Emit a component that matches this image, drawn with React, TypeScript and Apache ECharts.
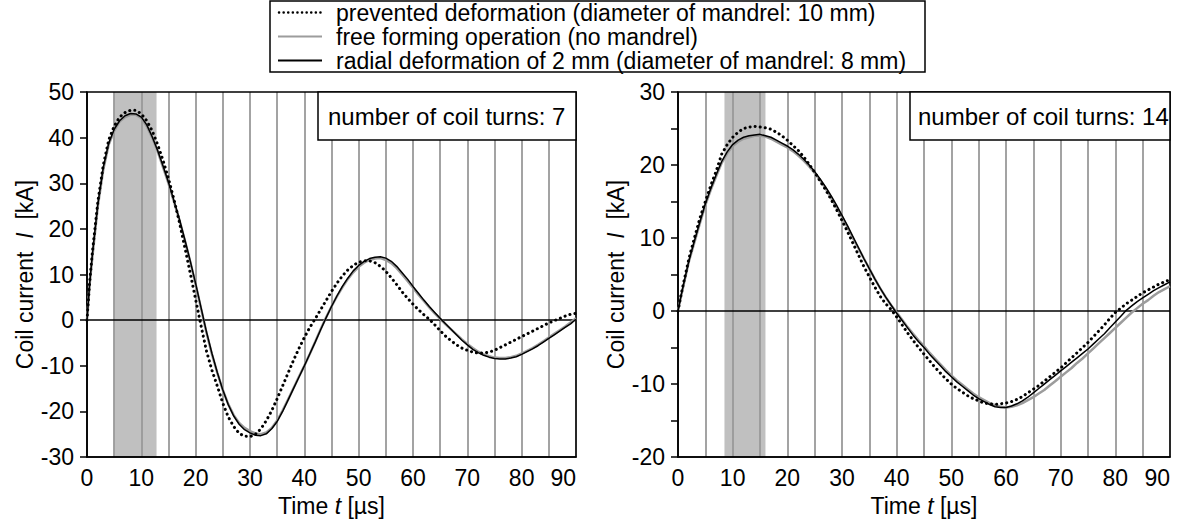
import React, { useEffect, useRef } from "react";
import * as echarts from "echarts";

const FONT = "'Liberation Sans', Arial, sans-serif";

// time axis (µs)
const TIME = [0, 0.5, ...Array.from({ length: 90 }, (_, i) => i + 1)];

// ---- 7 coil turns ----
const L_PREVENTED = [0, 8.5,
  15, 26, 34, 39.5, 42.5, 44.5, 45.5, 46, 46, 45.2,
  43.7, 41.5, 38.5, 35, 31, 26.5, 21.5, 16, 10.3, 4.5,
  -1.3, -6.8, -11, -14.5, -18.2, -21.2, -23.3, -24.8, -25.4, -25.5,
  -25, -23.8, -22, -19.8, -17.2, -14.4, -11.6, -8.8, -6.2, -3.8,
  -1.6, 0.3, 2.3, 4.3, 6.3, 8.1, 9.7, 11, 12, 12.7,
  13, 13, 12.6, 11.8, 10.7, 9.3, 7.8, 6.2, 4.8, 3.5,
  2.3, 1.2, 0.2, -1, -2.3, -3.5, -4.5, -5.4, -6.1, -6.6,
  -7, -7.2, -7.2, -7, -6.6, -6, -5.4, -4.8, -4.2, -3.6,
  -3, -2.4, -1.8, -1.2, -0.6, -0.1, 0.4, 0.9, 1.3, 1.5];
const L_FREE = [0, 8,
  14, 25, 33, 38.5, 41.5, 43.5, 44.5, 45, 45, 44.3,
  42.5, 40, 37, 33.5, 30, 26, 22, 17.5, 12.8, 7.8,
  2.5, -2.8, -7.5, -11.6, -15.3, -18.4, -20.8, -22.5, -23.6, -24.3,
  -24.8, -25, -24.6, -23.6, -22, -19.8, -17.4, -14.9, -12.4, -10,
  -7.4, -4.7, -2, 0.6, 3, 5.2, 7.2, 9, 10.5, 11.7,
  12.6, 13.2, 13.5, 13.6, 13.2, 12.5, 11.4, 10, 8.6, 7.1,
  5.6, 4.2, 2.8, 1.5, 0.3, -0.9, -2, -3.1, -4.2, -5.2,
  -6.1, -6.9, -7.5, -7.9, -8.2, -8.3, -8.3, -8.1, -7.8, -7.3,
  -6.7, -6.1, -5.4, -4.6, -3.8, -3, -2.2, -1.4, -0.5, 0.4];
const L_RADIAL = [0, 8.2,
  14.5, 25.5, 33.5, 38.8, 41.8, 43.7, 44.8, 45.3, 45.2, 44.5,
  42.8, 40.2, 37.2, 33.8, 30.2, 26.2, 22.2, 17.7, 13, 8,
  2.7, -2.6, -7.3, -11.5, -15.3, -18.5, -21, -22.8, -24, -24.7,
  -25.2, -25.3, -24.9, -23.8, -22.2, -20, -17.5, -15, -12.5, -10,
  -7.4, -4.8, -2.1, 0.5, 3, 5.3, 7.4, 9.2, 10.8, 12,
  12.9, 13.5, 13.8, 13.9, 13.6, 12.9, 11.8, 10.4, 9, 7.4,
  5.9, 4.4, 3, 1.7, 0.4, -0.8, -2, -3.2, -4.4, -5.4,
  -6.4, -7.1, -7.7, -8.1, -8.4, -8.5, -8.5, -8.3, -8, -7.5,
  -6.9, -6.3, -5.6, -4.8, -4, -3.2, -2.4, -1.6, -0.8, 0.2];

// ---- 14 coil turns ----
const R_PREVENTED = [0, 2,
  3.8, 7.2, 10, 12.7, 15, 17.2, 19.2, 21.5, 22.8, 23.8,
  24.5, 25, 25.2, 25.3, 25.2, 25.1, 24.9, 24.5, 24, 23.4,
  22.7, 22, 21.1, 20.1, 19, 17.8, 16.6, 15.3, 13.9, 12.4,
  10.9, 9.3, 7.7, 6.1, 4.7, 3.3, 2, 1, 0.2, -0.8,
  -1.9, -3, -4, -5, -5.9, -6.8, -7.7, -8.5, -9.3, -10,
  -10.6, -11.1, -11.6, -12, -12.3, -12.6, -12.7, -12.8, -12.7, -12.6,
  -12.4, -12.1, -11.7, -11.2, -10.7, -10.2, -9.6, -9, -8.4, -7.8,
  -7.1, -6.4, -5.7, -5, -4.3, -3.5, -2.7, -1.9, -1, -0.2,
  0.4, 1, 1.5, 2, 2.5, 2.9, 3.3, 3.7, 4, 4.3];
const R_FREE = [0, 1.8,
  3.5, 6.8, 9.4, 12, 14.5, 16.6, 18.5, 20.3, 21.6, 22.6,
  23.2, 23.6, 23.8, 24, 24, 23.9, 23.6, 23.2, 22.8, 22.4,
  21.9, 21.3, 20.6, 19.8, 18.9, 17.9, 16.8, 15.5, 14.2, 12.9,
  11.5, 10, 8.6, 7.2, 5.8, 4.4, 3.1, 1.9, 0.8, -0.2,
  -1.2, -2.2, -3.1, -4, -4.8, -5.7, -6.5, -7.3, -8.1, -8.8,
  -9.5, -10.1, -10.7, -11.3, -11.8, -12.2, -12.6, -12.9, -13.1, -13.2,
  -13.1, -12.9, -12.6, -12.2, -11.8, -11.3, -10.8, -10.2, -9.6, -9,
  -8.4, -7.8, -7.1, -6.5, -5.8, -5.1, -4.4, -3.7, -3, -2.3,
  -1.6, -0.9, -0.2, 0.4, 1, 1.5, 2.1, 2.6, 3, 3.4];
const R_RADIAL = [0, 1.9,
  3.6, 6.9, 9.6, 12.2, 14.7, 16.8, 18.7, 20.5, 21.8, 22.8,
  23.4, 23.8, 24, 24.1, 24.2, 24, 23.8, 23.4, 23, 22.6,
  22.1, 21.5, 20.8, 20, 19.1, 18.1, 17, 15.8, 14.5, 13.1,
  11.7, 10.2, 8.7, 7.2, 5.8, 4.4, 3.1, 1.9, 0.8, -0.3,
  -1.3, -2.3, -3.3, -4.2, -5, -5.9, -6.7, -7.5, -8.3, -9,
  -9.7, -10.3, -10.9, -11.5, -12, -12.4, -12.8, -13.1, -13.2, -13.2,
  -13, -12.7, -12.3, -11.8, -11.2, -10.6, -10, -9.4, -8.8, -8.2,
  -7.6, -7, -6.4, -5.8, -5.2, -4.5, -3.8, -3.1, -2.3, -1.5,
  -0.7, 0.1, 0.7, 1.3, 1.8, 2.3, 2.8, 3.2, 3.6, 4];

const LEGEND_LABELS = [
  "prevented deformation (diameter of mandrel: 10 mm)",
  "free forming operation (no mandrel)",
  "radial deformation of 2 mm (diameter of mandrel: 8 mm)",
];
const PANEL_LABELS = ["number of coil turns: 7", "number of coil turns: 14"];
const BANDS = [[5, 12.8], [8.5, 16]];
const Y_RANGES = [[-30, 50], [-20, 30]];

const GRID_GRAY = "#999999";
const LINE_GRAY = "#9c9c9c";
const FS = 23;

const pairs = (vals: number[]) => TIME.map((t, i) => [t, vals[i]]);

export default function App() {
  const ref = useRef<HTMLDivElement>(null);
  useEffect(() => {
    document.body.style.margin = "0";
    const chart = echarts.init(ref.current!, null, { renderer: "svg" });
    const grids = [
      { left: 87, top: 92, width: 489, height: 391 },
      { left: 678, top: 92, width: 492, height: 391 },
    ];
    const richItalic = { i: { fontStyle: "italic", fontSize: FS, fontFamily: FONT, color: "#000" } };
    const xAxes = [0, 1].map((i) => ({
      type: "value",
      gridIndex: i,
      min: 0,
      max: 90,
      interval: 10,
      z: 3,
      axisLine: { show: true, onZero: false, lineStyle: { color: "#000", width: 1.5 } },
      axisTick: { show: false },
      axisLabel: { color: "#000", fontSize: FS, fontFamily: FONT, margin: 9, alignMaxLabel: "right" },
      splitLine: { show: true, lineStyle: { color: GRID_GRAY, width: 1.8 } },
      minorTick: { show: false, splitNumber: 2 },
      minorSplitLine: { show: true, lineStyle: { color: GRID_GRAY, width: 1.8 } },
      name: "Time {i|t} [µs]",
      nameLocation: "middle",
      nameGap: 19,
      nameTextStyle: { color: "#000", fontSize: FS, fontFamily: FONT, rich: richItalic },
    }));
    const yAxes = [0, 1].map((i) => ({
      type: "value",
      gridIndex: i,
      min: Y_RANGES[i][0],
      max: Y_RANGES[i][1],
      interval: 10,
      z: 3,
      axisLine: { show: true, onZero: false, lineStyle: { color: "#000", width: 1.5 } },
      axisTick: { show: true, length: 7, lineStyle: { color: "#000", width: 1.5 } },
      minorTick: { show: i === 1, splitNumber: 2, length: 7, lineStyle: { color: "#000", width: 1.5 } },
      axisLabel: { color: "#000", fontSize: FS, fontFamily: FONT, margin: 13 },
      splitLine: { show: false },
      name: "Coil current  {i|I}  [kA]",
      nameLocation: "middle",
      nameGap: 50,
      nameTextStyle: { color: "#000", fontSize: FS, fontFamily: FONT, rich: richItalic },
    }));
    const series: any[] = [];
    const sets = [
      [L_FREE, L_RADIAL, L_PREVENTED],
      [R_FREE, R_RADIAL, R_PREVENTED],
    ];
    [0, 1].forEach((i) => {
      series.push({
        type: "line",
        xAxisIndex: i,
        yAxisIndex: i,
        z: 1,
        data: [],
        silent: true,
        markArea: {
          silent: true,
          itemStyle: { color: "#c0c0c0" },
          data: [[{ xAxis: BANDS[i][0] }, { xAxis: BANDS[i][1] }]],
        },
      });
      const [free, radial, prevented] = sets[i];
      series.push({
        name: LEGEND_LABELS[1], type: "line", xAxisIndex: i, yAxisIndex: i, z: 5,
        showSymbol: false, data: pairs(free),
        lineStyle: { color: LINE_GRAY, width: 2.5 },
        markLine: {
          silent: true, symbol: "none", label: { show: false },
          lineStyle: { color: "#000", width: 1.5, type: "solid" },
          data: [{ yAxis: 0 }],
        },
      });
      series.push({
        name: LEGEND_LABELS[2], type: "line", xAxisIndex: i, yAxisIndex: i, z: 6,
        showSymbol: false, data: pairs(radial),
        lineStyle: { color: "#000", width: 1.5 },
      });
      series.push({
        name: LEGEND_LABELS[0], type: "line", xAxisIndex: i, yAxisIndex: i, z: 7,
        showSymbol: false, data: pairs(prevented),
        lineStyle: { color: "#000", width: 3, type: [0.1, 5], cap: "round" },
      });
    });

    const legendY = [12.5, 36.5, 60.5];
    const graphic: any[] = [
      {
        type: "rect", z: 100, shape: { x: 270, y: 1, width: 655, height: 71 },
        style: { fill: "#fff", stroke: "#000", lineWidth: 1.5 },
      },
      {
        type: "line", z: 101, shape: { x1: 279, y1: legendY[0], x2: 321, y2: legendY[0] },
        style: { stroke: "#000", lineWidth: 2.5, lineDash: [0.1, 4.5], lineCap: "round" },
      },
      {
        type: "line", z: 101, shape: { x1: 278, y1: legendY[1], x2: 322, y2: legendY[1] },
        style: { stroke: LINE_GRAY, lineWidth: 2 },
      },
      {
        type: "line", z: 101, shape: { x1: 278, y1: legendY[2], x2: 322, y2: legendY[2] },
        style: { stroke: "#000", lineWidth: 2 },
      },
      ...LEGEND_LABELS.map((t, k) => ({
        type: "text", z: 101, x: 336, y: legendY[k],
        style: { text: t, fill: "#000", font: `23px ${FONT}`, verticalAlign: "middle" },
      })),
      {
        type: "rect", z: 100, shape: { x: 318, y: 92, width: 258, height: 48 },
        style: { fill: "#fff", stroke: "#000", lineWidth: 1.5 },
      },
      {
        type: "text", z: 101, x: 328, y: 116,
        style: { text: PANEL_LABELS[0], fill: "#000", font: `24px ${FONT}`, verticalAlign: "middle" },
      },
      {
        type: "rect", z: 100, shape: { x: 910, y: 92, width: 260, height: 48 },
        style: { fill: "#fff", stroke: "#000", lineWidth: 1.5 },
      },
      {
        type: "text", z: 101, x: 918, y: 116,
        style: { text: PANEL_LABELS[1], fill: "#000", font: `24px ${FONT}`, verticalAlign: "middle" },
      },
    ];

    chart.setOption({
      animation: false,
      backgroundColor: "#fff",
      grid: grids.map((g) => ({ ...g, show: true, z: 4, borderColor: "#000", borderWidth: 1.5, backgroundColor: "transparent" })),
      xAxis: xAxes,
      yAxis: yAxes,
      series,
      graphic,
    });
    return () => chart.dispose();
  }, []);
  return <div ref={ref} style={{ width: 1184, height: 522 }} />;
}
